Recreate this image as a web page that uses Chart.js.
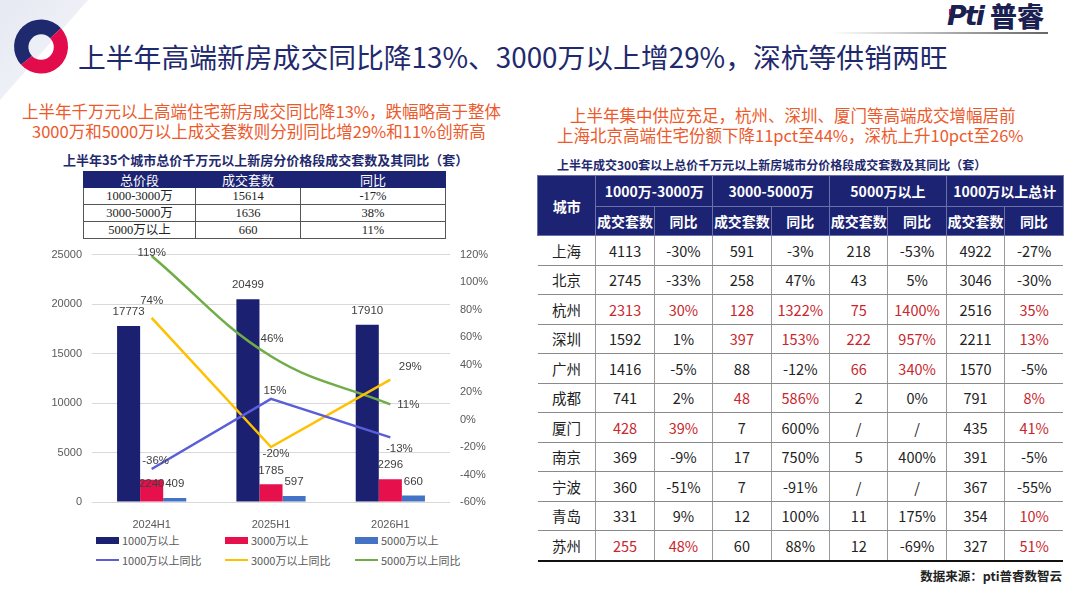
<!DOCTYPE html>
<html><head><meta charset="utf-8">
<script src="https://cdn.jsdelivr.net/npm/chart.js@4.4.1/dist/chart.umd.min.js"></script>
<style>
html,body{margin:0;padding:0;background:#fff;}
body{width:1080px;height:603px;position:relative;overflow:hidden;font-family:"Noto Sans CJK SC","Noto Sans",sans-serif;}
.abs{position:absolute;white-space:nowrap;}
#title{left:78px;top:36px;font-size:27.8px;color:#1f2a6e;line-height:40px;}
.sub{font-size:16.5px;color:#ec5a2c;line-height:20px;}
.ttl{font-weight:bold;color:#1f2a6e;line-height:16px;}
#lt{position:absolute;left:83px;top:171px;border-collapse:collapse;table-layout:fixed;font-size:12.5px;}
#lt td{border:1px solid #555;height:16px;padding:0;text-align:center;font-family:"Liberation Serif","Noto Sans CJK SC",serif;color:#222;line-height:15px;}
#lt th{background:#1c2372;color:#fff;font-weight:normal;height:15px;padding:0;border:1px solid #1c2372;font-size:13px;line-height:14px;}
#rt{position:absolute;left:537px;top:175px;border-collapse:collapse;table-layout:fixed;width:526px;}
#rt th{background:#1c2372;color:#fff;font-weight:bold;font-size:14px;padding:0;border:1px solid #6a70a8;}
#rt td{text-align:center;font-size:14.5px;color:#222;padding:0;height:28.5px;border-bottom:1px solid #8a8a8a;border-left:1px solid #9a9a9a;}
#rt td:first-child{border-left:none;}
#rt tr:last-child td{border-bottom:2.5px solid #111;}
#rt td.r{color:#c8262c;}
#legend .it{position:absolute;font-size:11px;color:#595959;display:flex;align-items:center;white-space:nowrap;}
#legend .sw{display:inline-block;width:23px;margin-right:3px;}
</style></head>
<body>
<svg class="abs" style="left:0;top:0" width="110" height="110">
  <defs><linearGradient id="g1" x1="0" y1="0" x2="1" y2="1"><stop offset="0" stop-color="#e6e8f2"/><stop offset="1" stop-color="#f6f7fb"/></linearGradient></defs>
  <polygon points="0,0 88,0 0,100" fill="url(#g1)"/>
  <path d="M 21.1 64.7 A 26 26 0 0 1 61.0 28.3 L 50.2 38.2 A 12 12 0 0 0 32.0 55.9 Z" fill="#1f2a6e"/>
  <path d="M 61.0 28.3 A 26 26 0 0 1 21.1 64.7 L 32.0 55.9 A 12 12 0 0 0 50.2 38.2 Z" fill="#e20b4c"/>
</svg>
<div id="title" class="abs">上半年高端新房成交同比降13%、3000万以上增29%，深杭等供销两旺</div>
<div class="abs" style="left:830px;top:32px;width:218px;height:2px;background:linear-gradient(to right,rgba(120,120,120,0),#666);"></div>
<div class="abs" style="left:949px;top:9px;width:6px;height:6px;background:#e20b4c;"></div>
<div class="abs" style="left:947px;top:0px;font-size:27px;font-weight:900;font-style:italic;color:#1a2050;font-family:'DejaVu Sans',sans-serif;letter-spacing:-2px;line-height:32px;">Pti</div>
<div class="abs" style="left:990px;top:0px;font-size:27px;font-weight:900;color:#1a2050;line-height:32px;">普睿</div>

<div class="abs sub" style="left:22px;top:101px;">上半年千万元以上高端住宅新房成交同比降13%，跌幅略高于整体</div>
<div class="abs sub" style="left:32px;top:121px;">3000万和5000万以上成交套数则分别同比增29%和11%创新高</div>
<div class="abs sub" style="left:570px;top:105px;">上半年集中供应充足，杭州、深圳、厦门等高端成交增幅居前</div>
<div class="abs sub" style="left:557px;top:125px;">上海北京高端住宅份额下降11pct至44%，深杭上升10pct至26%</div>

<div class="abs ttl" style="left:63px;top:152px;font-size:13px;">上半年35个城市总价千万元以上新房分价格段成交套数及其同比（套）</div>
<table id="lt"><colgroup><col style="width:112px"><col style="width:105px"><col style="width:145px"></colgroup>
<thead><tr id="lthead"></tr></thead><tbody id="ltbody"></tbody></table>

<div class="abs ttl" style="left:557px;top:157px;font-size:12px;">上半年成交300套以上总价千万元以上新房城市分价格段成交套数及其同比（套）</div>
<table id="rt"><colgroup id="rtcols"></colgroup>
<thead>
<tr style="height:31px"><th rowspan="2">城市</th><th colspan="2">1000万-3000万</th><th colspan="2">3000-5000万</th><th colspan="2">5000万以上</th><th colspan="2">1000万以上总计</th></tr>
<tr style="height:29px" id="rtsub"></tr>
</thead><tbody id="rtbody"></tbody></table>

<div class="abs" style="right:18px;top:566px;font-size:12.5px;font-weight:bold;color:#222;line-height:20px;">数据来源：pti普睿数智云</div>

<div class="abs" style="left:40px;top:238px;width:470px;height:290px;"><canvas id="c" width="470" height="290" style="width:470px;height:290px"></canvas></div>
<div id="legend"></div>

<script>
// ---------- data ----------
const categories = ["2024H1", "2025H1", "2026H1"];
const above1000 = [17773, 20499, 17910];
const above3000 = [2240, 1785, 2296];
const above5000 = [409, 597, 660];
const yoy1000 = [-36, 15, -13];
const yoy3000 = [74, -20, 29];
const yoy5000 = [119, 46, 11];
const leftTicks = [0, 5000, 10000, 15000, 20000, 25000];
const rightTicks = [-60, -40, -20, 0, 20, 40, 60, 80, 100, 120];
const seriesNames = ["1000万以上", "3000万以上", "5000万以上", "1000万以上同比", "3000万以上同比", "5000万以上同比"];

const segHeader = ["总价段", "成交套数", "同比"];
const segNames = ["1000-3000万", "3000-5000万", "5000万以上"];
const segCounts = [15614, 1636, 660];
const segYoy = ["-17%", "38%", "11%"];

const cities = ["上海","北京","杭州","深圳","广州","成都","厦门","南京","宁波","青岛","苏州"];
const c1000Count = ["4113","2745","2313","1592","1416","741","428","369","360","331","255"];
const c1000Yoy = ["-30%","-33%","30%","1%","-5%","2%","39%","-9%","-51%","9%","48%"];
const c3000Count = ["591","258","128","397","88","48","7","17","7","12","60"];
const c3000Yoy = ["-3%","47%","1322%","153%","-12%","586%","600%","750%","-91%","100%","88%"];
const c5000Count = ["218","43","75","222","66","2","/","5","/","11","12"];
const c5000Yoy = ["-53%","5%","1400%","957%","340%","0%","/","400%","/","175%","-69%"];
const totalCount = ["4922","3046","2516","2211","1570","791","435","391","367","354","327"];
const totalYoy = ["-27%","-30%","35%","13%","-5%","8%","41%","-5%","-55%","10%","51%"];
// cells highlighted red in the source table: [row, col]
const redCells = [[2,1],[2,2],[2,3],[2,4],[2,5],[2,6],[2,8],[3,3],[3,4],[3,5],[3,6],[3,8],[4,5],[4,6],[5,3],[5,4],[5,8],[6,1],[6,2],[6,8],[9,8],[10,1],[10,2],[10,8]];

// ---------- styles ----------
const colors = ["#1b2170", "#e5104c", "#4472c4", "#5a5fd8", "#ffc000", "#70ad47"];
const labelOffsets = [
  [[0,-14],[0,-14],[0,-14]],
  [[0,4],[0,-14],[0,-14]],
  [[0,-14],[0,-14],[0,-14]],
  [[4,-8],[4,-8],[9,11]],
  [[0,-17],[5,7],[20,-13]],
  [[0,-3],[1,-17],[18,0]]
];

// ---------- tables ----------
document.getElementById('lthead').innerHTML = segHeader.map(h => `<th>${h}</th>`).join('');
document.getElementById('ltbody').innerHTML = segNames.map((n,i) =>
  `<tr><td>${n}</td><td>${segCounts[i]}</td><td>${segYoy[i]}</td></tr>`).join('');

document.getElementById('rtcols').innerHTML = Array(9).fill('<col style="width:58.4px">').join('');
document.getElementById('rtsub').innerHTML = Array(4).fill('<th>成交套数</th><th>同比</th>').join('');
const redSet = new Set(redCells.map(a => a[0]+'_'+a[1]));
document.getElementById('rtbody').innerHTML = cities.map((c,i) => {
  const vals = [c, c1000Count[i], c1000Yoy[i], c3000Count[i], c3000Yoy[i], c5000Count[i], c5000Yoy[i], totalCount[i], totalYoy[i]];
  return '<tr>' + vals.map((v,j) => `<td class="${redSet.has(i+'_'+j)?'r':''}">${v}</td>`).join('') + '</tr>';
}).join('');

// ---------- legend ----------
const legendPos = [[96,533],[225,533],[355,533],[96,553],[225,553],[355,553]];
document.getElementById('legend').innerHTML = seriesNames.map((n,i) => {
  const sw = i < 3 ? `<span class="sw" style="height:7px;background:${colors[i]}"></span>`
                   : `<span class="sw" style="height:2.5px;background:${colors[i]}"></span>`;
  return `<div class="it" style="left:${legendPos[i][0]}px;top:${legendPos[i][1]}px;height:14px;">${sw}${n}</div>`;
}).join('');

// ---------- chart ----------
const tickFont = {family: "'Liberation Sans',sans-serif", size: 11};
const labelPlugin = {
  id: 'dl',
  afterDatasetsDraw(chart) {
    const ctx = chart.ctx;
    ctx.save();
    ctx.font = "11.5px 'Liberation Sans',sans-serif";
    ctx.fillStyle = '#404040';
    ctx.textAlign = 'center';
    ctx.textBaseline = 'middle';
    chart.data.datasets.forEach((ds, di) => {
      const meta = chart.getDatasetMeta(di);
      meta.data.forEach((el, i) => {
        const v = ds.data[i];
        const txt = ds.type === 'line' ? v + '%' : String(v);
        const off = labelOffsets[di][i];
        ctx.fillText(txt, el.x + off[0], el.y + off[1]);
      });
    });
    ctx.restore();
  }
};

new Chart(document.getElementById('c'), {
  data: {
    labels: categories,
    datasets: [
      {type:'bar', label: seriesNames[0], data: above1000, backgroundColor: colors[0], yAxisID:'y', order:2, barPercentage:1, categoryPercentage:0.58},
      {type:'bar', label: seriesNames[1], data: above3000, backgroundColor: colors[1], yAxisID:'y', order:2, barPercentage:1, categoryPercentage:0.58},
      {type:'bar', label: seriesNames[2], data: above5000, backgroundColor: colors[2], yAxisID:'y', order:2, barPercentage:1, categoryPercentage:0.58},
      {type:'line', label: seriesNames[3], data: yoy1000, borderColor: colors[3], borderWidth:2.5, pointRadius:0, tension:0, yAxisID:'y1', order:1},
      {type:'line', label: seriesNames[4], data: yoy3000, borderColor: colors[4], borderWidth:2.5, pointRadius:0, tension:0, yAxisID:'y1', order:1},
      {type:'line', label: seriesNames[5], data: yoy5000, borderColor: colors[5], borderWidth:2.5, pointRadius:0, tension:0.4, yAxisID:'y1', order:1}
    ]
  },
  options: {
    responsive:false, animation:false,
    layout:{padding:{top:4,left:0,right:0,bottom:0}},
    plugins:{legend:{display:false}, tooltip:{enabled:false}},
    scales:{
      x:{grid:{display:false}, border:{display:false}, ticks:{color:'#595959', font:tickFont, padding:8},
         afterFit(s){ s.height = 26; }},
      y:{position:'left', min:leftTicks[0], max:leftTicks[leftTicks.length-1],
         afterBuildTicks(s){ s.ticks = leftTicks.map(v=>({value:v})); },
         grid:{color:'#d9d9d9', lineWidth:1, drawTicks:false}, border:{display:false},
         ticks:{color:'#595959', font:tickFont, padding:10, callback:v=>String(v)},
         afterFit(s){ s.width = 52; }},
      y1:{position:'right', min:rightTicks[0], max:rightTicks[rightTicks.length-1],
         afterBuildTicks(s){ s.ticks = rightTicks.map(v=>({value:v})); },
         grid:{display:false, drawTicks:false}, border:{display:false},
         ticks:{color:'#595959', font:tickFont, padding:10, callback:v=>v+'%'},
         afterFit(s){ s.width = 60; }}
    }
  },
  plugins:[labelPlugin]
});
</script>
</body></html>
